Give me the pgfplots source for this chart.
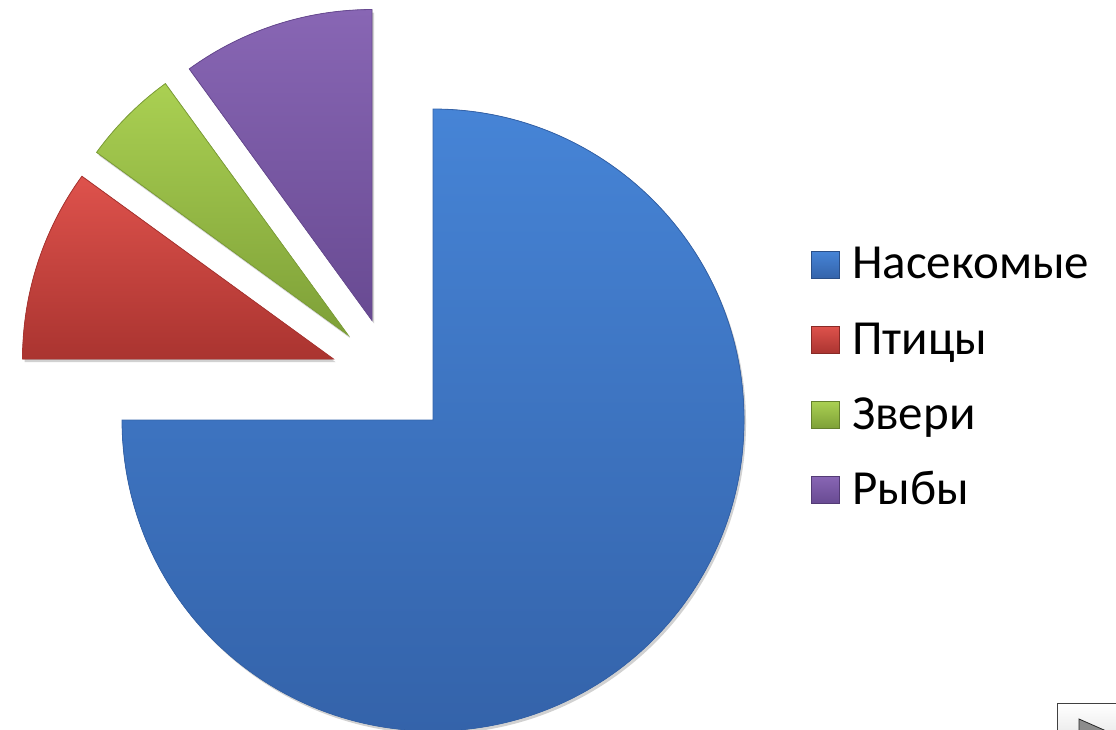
\documentclass[border=0pt]{standalone}
\usepackage{fontspec}
\setmainfont{Carlito}
\usepackage{pgfplots}
\usepackage{pgfplotstable}
\pgfplotsset{compat=1.18}

% slice colours (top / bottom of gradient)
\definecolor{ct0}{RGB}{70,132,214}
\definecolor{cb0}{RGB}{52,99,170}
\definecolor{ct1}{RGB}{222,82,76}
\definecolor{cb1}{RGB}{170,52,48}
\definecolor{ct2}{RGB}{170,208,82}
\definecolor{cb2}{RGB}{126,160,56}
\definecolor{ct3}{RGB}{136,102,180}
\definecolor{cb3}{RGB}{104,74,146}

\pgfplotstableread{
name value
Насекомые 75
Птицы 10
Звери 5
Рыбы 10
}\piedata

\begin{document}
\begin{tikzpicture}
% centre, explode distance and radius (axis units = bp)
\def\cx{390.6}\def\cy{352.4}\def\ex{60}\def\R{311bp}
\def\cum{90}
\pgfplotsforeachungrouped \i in {0,...,3}{%
  \pgfplotstablegetelem{\i}{value}\of\piedata
  \pgfmathsetmacro\endang{\cum-3.6*\pgfplotsretval}%
  \pgfmathsetmacro\midang{(\cum+\endang)/2}%
  \pgfmathsetmacro\apx{\cx+\ex*cos(\midang)}%
  \pgfmathsetmacro\apy{\cy+\ex*sin(\midang)}%
  \pgfmathsetmacro\lsq{465-75*\i}%
  \pgfmathsetmacro\ltx{451-75.3*\i}%
  \expandafter\xdef\csname sa\i\endcsname{\cum}%
  \expandafter\xdef\csname ea\i\endcsname{\endang}%
  \expandafter\xdef\csname ax\i\endcsname{\apx}%
  \expandafter\xdef\csname ay\i\endcsname{\apy}%
  \expandafter\xdef\csname lsq\i\endcsname{\lsq}%
  \expandafter\xdef\csname ltx\i\endcsname{\ltx}%
  \pgfplotstablegetelem{\i}{name}\of\piedata
  \expandafter\xdef\csname lab\i\endcsname{\pgfplotsretval}%
  \xdef\cum{\endang}%
}
\begin{axis}[x=1bp, y=1bp, xmin=0, xmax=1116, ymin=0, ymax=730,
  hide axis, clip=false]
\addplot[draw=none] coordinates {(0,0) (1116,730)};
% slices
\pgfplotsinvokeforeach{0,...,3}{
  \fill[black, opacity=0.18, xshift=2bp, yshift=-3bp]
    (axis cs:\csname ax#1\endcsname,\csname ay#1\endcsname)
    -- ++(\csname sa#1\endcsname:\R)
    arc[start angle=\csname sa#1\endcsname, end angle=\csname ea#1\endcsname, radius=\R] -- cycle;
  \fill[top color=ct#1, bottom color=cb#1, draw=cb#1, line width=0.8bp]
    (axis cs:\csname ax#1\endcsname,\csname ay#1\endcsname)
    -- ++(\csname sa#1\endcsname:\R)
    arc[start angle=\csname sa#1\endcsname, end angle=\csname ea#1\endcsname, radius=\R] -- cycle;
}
% legend
\pgfplotsinvokeforeach{0,...,3}{
  \fill[top color=ct#1, bottom color=cb#1, draw=cb#1!80!black, line width=0.6bp]
    (axis cs:811,\csname lsq#1\endcsname) ++(0,-13.5bp) rectangle ++(28bp,27bp);
  \node[anchor=base west, inner sep=0pt, font=\fontsize{49bp}{58bp}\selectfont]
    at (axis cs:852,\csname ltx#1\endcsname) {\csname lab#1\endcsname};
}
% button in the corner
\draw[black!75, line width=1bp, top color=white, bottom color=black!12]
  (axis cs:1057,26) rectangle (axis cs:1135,-20);
\fill[black!45, draw=black!85, line width=0.8bp]
  (axis cs:1079,11) -- (axis cs:1104,0) -- (axis cs:1079,-11) -- cycle;
\end{axis}
\pgfresetboundingbox
\useasboundingbox (0,0) rectangle (1116bp,730bp);
\end{tikzpicture}
\end{document}
